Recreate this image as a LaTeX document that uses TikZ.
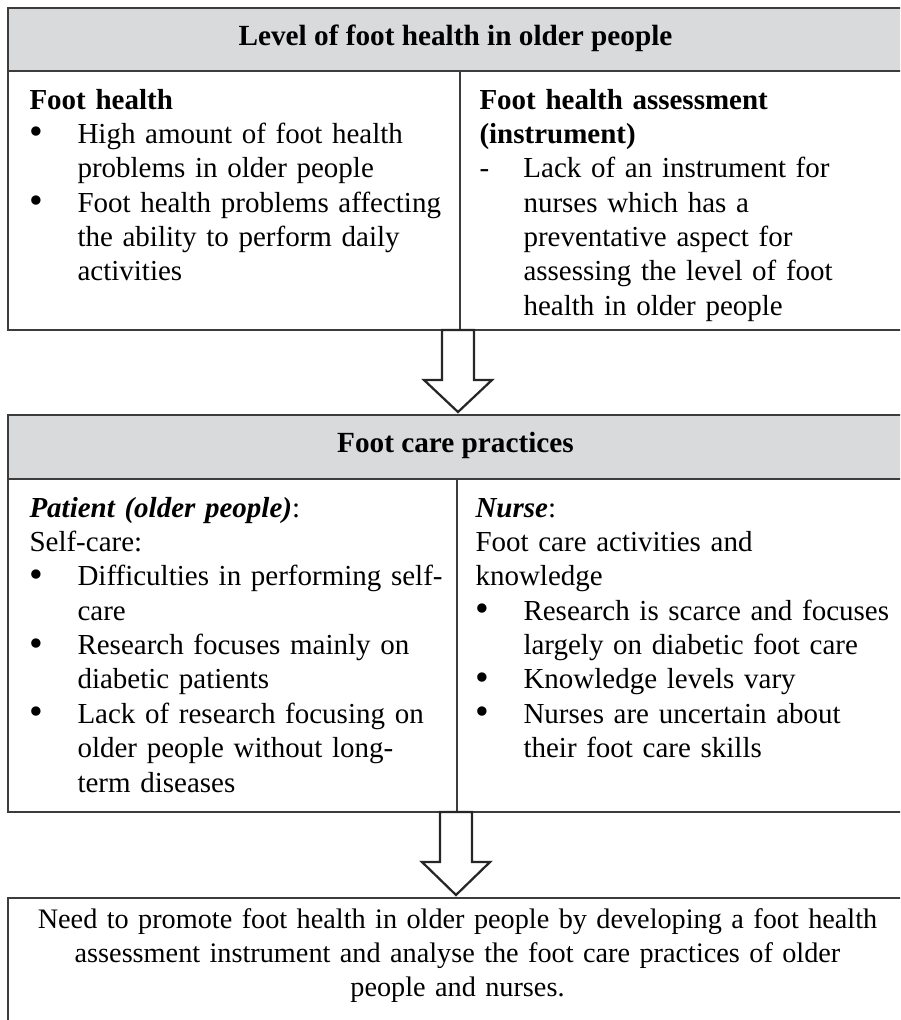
\documentclass[tikz,border=0pt]{standalone}
\usepackage{fontspec}
\setmainfont{Liberation Serif}

\definecolor{headgray}{RGB}{217,218,220}
\definecolor{rulegray}{RGB}{60,60,60}

% list marks with hanging indent
\newcommand{\bul}{\makebox[19.2pt][l]{\smash{\raisebox{-0.6pt}{\scalebox{1.35}{\textbullet}}}}}
\newcommand{\ind}{\hspace*{19.2pt}}
\newcommand{\dsh}{\makebox[17.6pt][l]{-}}
\newcommand{\dind}{\hspace*{17.6pt}}

\begin{document}
\begin{tikzpicture}[x=0.4pt, y=-0.4pt,
    frame/.style={draw=rulegray, line width=0.7pt},
    inner/.style={draw=rulegray, line width=0.5pt},
    blockarrow/.style={draw=black!85, line width=0.9pt, fill=white, line join=miter},
    cell/.style={anchor=base west, inner sep=0pt, text width=180pt, align=left,
        font=\fontsize{11.6}{13.75}\selectfont},
    title/.style={anchor=base, inner sep=0pt, font=\fontsize{11.7}{13.75}\selectfont\bfseries}]

\useasboundingbox (0,0) rectangle (900,1020);
\clip (0,0) rectangle (900,1020);

% Level of foot health
\fill[headgray] (8,8) rectangle (903,71);
\draw[frame] (8,8) rectangle (903,330);
\draw[inner] (8,71) -- (903,71);
\draw[inner] (460,71) -- (460,330);
\node[title] (level) at (455.5,45) {Level of foot health in older people};

\node[cell] (health) at (29,109) {\textbf{Foot health}\\
    \bul High amount of foot health\\
    \ind problems in older people\\
    \bul Foot health problems affecting\\
    \ind the ability to perform daily\\
    \ind activities};

\node[cell] (assess) at (479,109) {\textbf{Foot health assessment}\\
    \textbf{(instrument)}\\
    \dsh Lack of an instrument for\\
    \dind nurses which has a\\
    \dind preventative aspect for\\
    \dind assessing the level of foot\\
    \dind health in older people};

% arrow down
\coordinate (levelbot) at (458,330);
\draw[blockarrow] (levelbot) ++(-16,0) -- ++(0,50) -- ++(-18,0) -- ++(34,32)
    -- ++(34,-32) -- ++(-18,0) -- ++(0,-50) -- cycle;

% Foot care practices
\fill[headgray] (8,415) rectangle (903,479);
\draw[frame] (8,415) rectangle (903,812);
\draw[inner] (8,479) -- (903,479);
\draw[inner] (457,479) -- (457,812);
\node[title] (practice) at (455.5,452) {Foot care practices};

\node[cell] (patient) at (29,517) {\textbf{\textit{Patient (older people)}}:\\
    Self-care:\\
    \bul Difficulties in performing self-\\
    \ind care\\
    \bul Research focuses mainly on\\
    \ind diabetic patients\\
    \bul Lack of research focusing on\\
    \ind older people without long-\\
    \ind term diseases};

\node[cell] (nurse) at (475,517) {\textbf{\textit{Nurse}}:\\
    Foot care activities and\\
    knowledge\\
    \bul Research is scarce and focuses\\
    \ind largely on diabetic foot care\\
    \bul Knowledge levels vary\\
    \bul Nurses are uncertain about\\
    \ind their foot care skills};

% arrow down
\coordinate (practicebot) at (456,812);
\draw[blockarrow] (practicebot) ++(-16,0) -- ++(0,50) -- ++(-18,0) -- ++(34,33)
    -- ++(34,-33) -- ++(-18,0) -- ++(0,-50) -- cycle;

% Need
\draw[frame] (8,898) rectangle (903,1040);
\node[anchor=base, inner sep=0pt, text width=352pt, align=center,
    font=\fontsize{11.3}{13.75}\selectfont] (need) at (457.5,928)
    {Need to promote foot health in older people by developing a foot health\\
    assessment instrument and analyse the foot care practices of older\\
    people and nurses.};

\end{tikzpicture}
\end{document}
